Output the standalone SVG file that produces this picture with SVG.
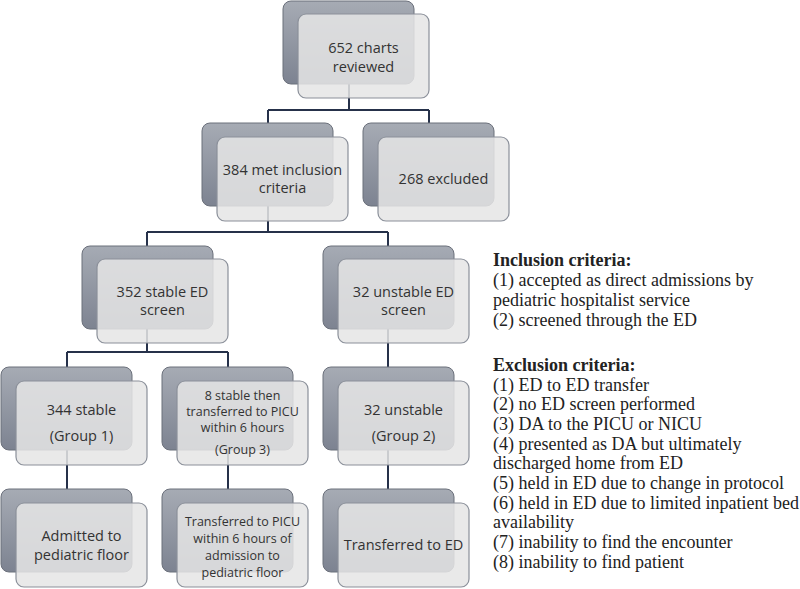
<svg xmlns="http://www.w3.org/2000/svg" width="800" height="589" viewBox="0 0 800 589">
<defs>
<linearGradient id="bg" x1="0" y1="0" x2="0" y2="1">
<stop offset="0" stop-color="#a6abb4"/>
<stop offset="1" stop-color="#7d8391"/>
</linearGradient>
<style>
.back{fill:url(#bg);stroke:#6b707b;stroke-width:1}
.front{fill:#e5e5e5;fill-opacity:0.86;stroke:#8b909a;stroke-width:1.2}
.t{font-family:"Open Sans","Liberation Sans",sans-serif;font-size:14.5px;fill:#333;text-anchor:middle}
.ts{font-family:"Open Sans","Liberation Sans",sans-serif;font-size:12.5px;fill:#333;text-anchor:middle}
.c{stroke:#26314a;stroke-width:2;fill:none}
.r{font-family:"Liberation Serif","Times New Roman",serif;font-size:18px;fill:#222}
.rb{font-weight:bold}
</style>
</defs>
<rect width="800" height="589" fill="#fff"/>
<g id="connectors">
<path class="c" d="M349 84V110M268 110H429M268 110V123M429 110V123"/>
<path class="c" d="M268 206V232M147 232H388M147 232V246M388 232V246"/>
<path class="c" d="M147 329V352M67 352H228M67 352V367M228 352V367M388 329V367"/>
<path class="c" d="M67 450V489M228 450V489M388 450V489"/>
</g>
<g id="n652"><rect class="back" x="283" y="1" width="131" height="83" rx="8"/><rect class="front" x="298" y="14" width="131" height="84" rx="8"/><text class="t" x="363.5" y="53">652 charts</text><text class="t" x="363.5" y="72">reviewed</text></g>
<g id="n384"><rect class="back" x="202" y="123" width="131" height="83" rx="8"/><rect class="front" x="217" y="137" width="131" height="84" rx="8"/><text class="t" x="282.5" y="175">384 met inclusion</text><text class="t" x="282.5" y="193">criteria</text></g>
<g id="n268"><rect class="back" x="363" y="123" width="131" height="83" rx="8"/><rect class="front" x="378" y="137" width="131" height="84" rx="8"/><text class="t" x="443.5" y="184">268 excluded</text></g>
<g id="n352"><rect class="back" x="82" y="246" width="131" height="83" rx="8"/><rect class="front" x="97" y="259" width="131" height="84" rx="8"/><text class="t" x="162.5" y="297">352 stable ED</text><text class="t" x="162.5" y="315">screen</text></g>
<g id="n32ed"><rect class="back" x="323" y="246" width="131" height="83" rx="8"/><rect class="front" x="338" y="259" width="131" height="84" rx="8"/><text class="t" x="403.5" y="297">32 unstable ED</text><text class="t" x="403.5" y="315">screen</text></g>
<g id="n344"><rect class="back" x="1" y="367" width="131" height="83" rx="8"/><rect class="front" x="16" y="381" width="131" height="84" rx="8"/><text class="t" x="81.5" y="415">344 stable</text><text class="t" x="81.5" y="441">(Group 1)</text></g>
<g id="n8"><rect class="back" x="162" y="367" width="131" height="83" rx="8"/><rect class="front" x="177" y="381" width="131" height="84" rx="8"/><text class="ts" x="242.5" y="400">8 stable then</text><text class="ts" x="242.5" y="416">transferred to PICU</text><text class="ts" x="242.5" y="432">within 6 hours</text><text class="ts" x="242.5" y="454">(Group 3)</text></g>
<g id="n32"><rect class="back" x="323" y="367" width="131" height="83" rx="8"/><rect class="front" x="338" y="381" width="131" height="84" rx="8"/><text class="t" x="403.5" y="415">32 unstable</text><text class="t" x="403.5" y="441">(Group 2)</text></g>
<g id="nadm"><rect class="back" x="1" y="489" width="131" height="83" rx="8"/><rect class="front" x="16" y="503" width="131" height="84" rx="8"/><text class="t" x="81.5" y="541">Admitted to</text><text class="t" x="81.5" y="560">pediatric floor</text></g>
<g id="npicu"><rect class="back" x="162" y="489" width="131" height="83" rx="8"/><rect class="front" x="177" y="503" width="131" height="84" rx="8"/><text class="ts" x="242.5" y="526">Transferred to PICU</text><text class="ts" x="242.5" y="543">within 6 hours of</text><text class="ts" x="242.5" y="560">admission to</text><text class="ts" x="242.5" y="577">pediatric floor</text></g>
<g id="ned"><rect class="back" x="323" y="489" width="131" height="83" rx="8"/><rect class="front" x="338" y="503" width="131" height="84" rx="8"/><text class="t" x="403.5" y="550">Transferred to ED</text></g>
<g id="criteria" class="r">
<text x="493" y="266" class="r rb">Inclusion criteria:</text>
<text x="493" y="286" class="r">(1) accepted as direct admissions by</text>
<text x="493" y="306" class="r">pediatric hospitalist service</text>
<text x="493" y="326" class="r">(2) screened through the ED</text>
<text x="493" y="371" class="r rb">Exclusion criteria:</text>
<text x="493" y="391" class="r">(1) ED to ED transfer</text>
<text x="493" y="410" class="r">(2) no ED screen performed</text>
<text x="493" y="430" class="r">(3) DA to the PICU or NICU</text>
<text x="493" y="450" class="r">(4) presented as DA but ultimately</text>
<text x="493" y="469" class="r">discharged home from ED</text>
<text x="493" y="489" class="r">(5) held in ED due to change in protocol</text>
<text x="493" y="509" class="r">(6) held in ED due to limited inpatient bed</text>
<text x="493" y="528" class="r">availability</text>
<text x="493" y="548" class="r">(7) inability to find the encounter</text>
<text x="493" y="568" class="r">(8) inability to find patient</text>
</g>
</svg>
